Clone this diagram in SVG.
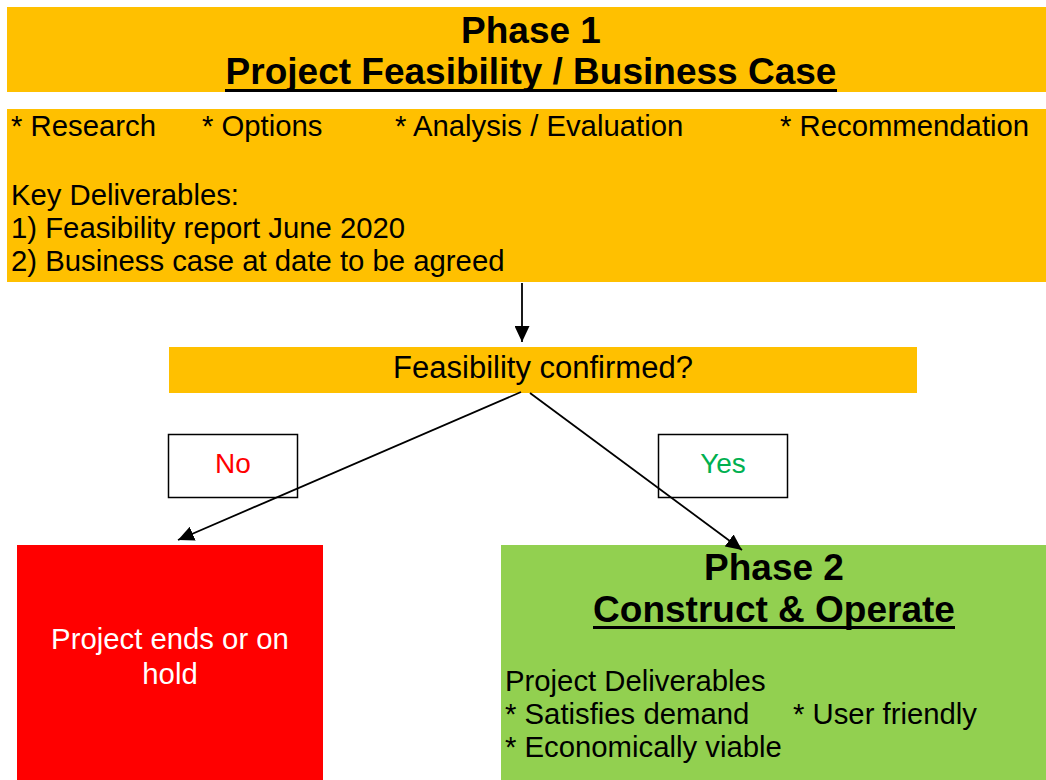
<svg xmlns="http://www.w3.org/2000/svg" width="1046" height="780" viewBox="0 0 1046 780">
  <style>
    text { font-family: "Liberation Sans", Arial, sans-serif; }
    .title { font-size: 37px; font-weight: bold; fill: #000; text-anchor: middle; }
    .body { font-size: 29.3px; fill: #000; }
    .amber { fill: #FFC000; }
    .label { fill: #FFFFFF; stroke: #000; stroke-width: 1.5; }
    .conn { stroke: #000; stroke-width: 1.8; fill: none; marker-end: url(#arrow); }
  </style>
  <defs>
    <marker id="arrow" viewBox="0 0 16 15" refX="16" refY="7.5" markerWidth="16" markerHeight="15" markerUnits="userSpaceOnUse" orient="auto">
      <path d="M0,0 L16,7.5 L0,15 z" fill="#000"/>
    </marker>
  </defs>
  <rect width="1046" height="780" fill="#FFFFFF"/>

  <g id="phase1-header">
    <rect class="amber" x="7" y="7" width="1039" height="85"/>
    <text class="title" x="531" y="43">Phase 1</text>
    <text class="title" x="531" y="84">Project Feasibility / Business Case</text>
    <rect x="225" y="89" width="612" height="3" fill="#000"/>
  </g>

  <g id="phase1-details">
    <rect class="amber" x="7" y="109" width="1039" height="173"/>
    <text class="body" x="11" y="136">* Research</text>
    <text class="body" x="202" y="136">* Options</text>
    <text class="body" x="395" y="136">* Analysis / Evaluation</text>
    <text class="body" x="780" y="136">* Recommendation</text>
    <text class="body" x="11" y="205">Key Deliverables:</text>
    <text class="body" x="11" y="238">1) Feasibility report June 2020</text>
    <text class="body" x="11" y="271">2) Business case at date to be agreed</text>
  </g>

  <g id="decision">
    <rect class="amber" x="169" y="347" width="748" height="46"/>
    <text x="543" y="378" font-size="31" text-anchor="middle" fill="#000">Feasibility confirmed?</text>
  </g>

  <g id="label-no">
    <rect class="label" x="168.5" y="434.5" width="129" height="63"/>
    <text x="233" y="473" font-size="28" text-anchor="middle" fill="#FF0000">No</text>
  </g>

  <g id="label-yes">
    <rect class="label" x="658.5" y="434.5" width="129" height="63"/>
    <text x="723" y="473" font-size="28" text-anchor="middle" fill="#00B050">Yes</text>
  </g>

  <g id="project-ends">
    <rect x="17" y="545" width="306" height="235" fill="#FF0000"/>
    <text class="body" x="170" y="649" text-anchor="middle" style="fill:#FFFFFF">Project ends or on</text>
    <text class="body" x="170" y="684" text-anchor="middle" style="fill:#FFFFFF">hold</text>
  </g>

  <g id="phase2">
    <rect x="501" y="545" width="545" height="235" fill="#92D050"/>
    <text class="title" x="774" y="580">Phase 2</text>
    <text class="title" x="774" y="622">Construct &amp; Operate</text>
    <rect x="593" y="626" width="362" height="3" fill="#000"/>
    <text class="body" x="505" y="691">Project Deliverables</text>
    <text class="body" x="505" y="724">* Satisfies demand</text>
    <text class="body" x="793" y="724">* User friendly</text>
    <text class="body" x="505" y="757">* Economically viable</text>
  </g>

  <g id="connectors">
    <line class="conn" x1="522" y1="283" x2="522" y2="342"/>
    <line class="conn" x1="521" y1="392" x2="178" y2="540"/>
    <line class="conn" x1="530" y1="393" x2="742" y2="550"/>
  </g>
</svg>
